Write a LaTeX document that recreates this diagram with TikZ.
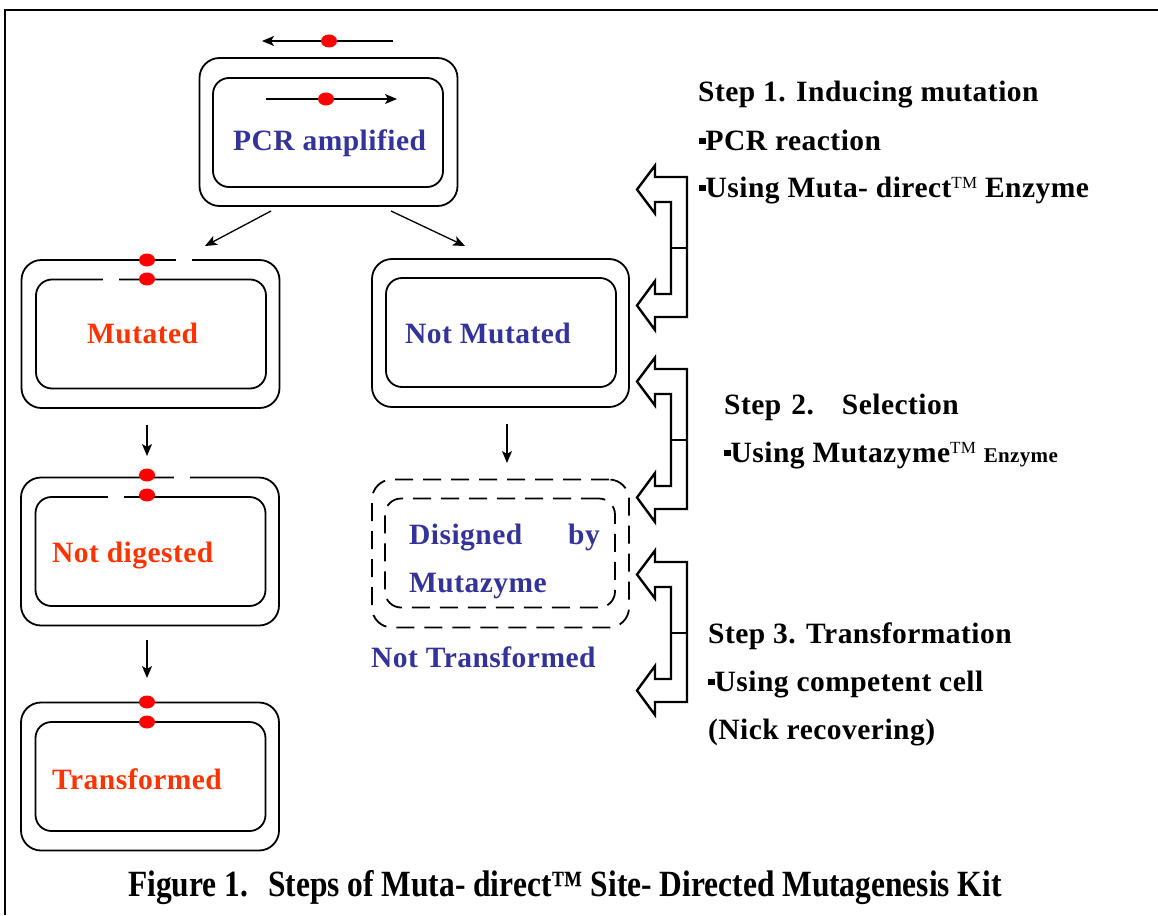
\documentclass[tikz,border=0pt]{standalone}
\usepackage{fontspec}
\setmainfont{Liberation Serif}[LetterSpace=1.6]
\newfontfamily\capfont[FakeStretch=0.85]{Liberation Serif}
\usetikzlibrary{arrows.meta,shapes.geometric,calc}
\definecolor{lblue}{RGB}{51,51,153}
\definecolor{lred}{RGB}{255,51,0}
\definecolor{dotred}{RGB}{255,0,0}
\newcommand{\mybul}{\raisebox{0.2em}{\rule{0.22em}{0.22em}}}
\newcommand{\mytm}{\raisebox{9pt}{\fontsize{17}{17}\selectfont\mdseries TM}}
\begin{document}
\begin{tikzpicture}[x=1pt,y=-1pt,
 obox/.style={draw, line width=1.8pt, rounded corners=20pt, inner sep=0pt, minimum width=258pt, minimum height=148pt},
 ibox/.style={draw, line width=1.8pt, rounded corners=16pt, inner sep=0pt, minimum width=230pt, minimum height=109pt},
 dashbox/.style={dash pattern=on 18pt off 10pt},
 lbl/.style={anchor=base west, inner sep=0pt, font=\fontsize{29.5}{30}\selectfont\bfseries},
 dot/.style={ellipse, fill=dotred, inner sep=0pt, minimum width=16pt, minimum height=13pt},
 arr/.style={line width=1.3pt, -{Stealth[length=12pt,width=10pt,inset=3pt]}},
 gapw/.style={fill=white, inner sep=0pt, minimum width=16pt, minimum height=6pt},
 brk/.style={line width=2.4pt, line join=miter},
 brackpic/.pic={
   \draw[brk] (18,0) -- (50,0) -- (50,140) -- (18,140) -- (18,153) -- (0,128.5) -- (18,104) -- (18,117) -- (34,117) -- (34,25) -- (18,25) -- (18,36.5) -- (0,12.5) -- (18,-11.5) -- cycle;
   \draw[line width=1.2pt] (34,71) -- (50,71);
 }]
\useasboundingbox (0,0) rectangle (1158,915);
% frame
\draw[line width=2pt] (5,915) -- (5,10) -- (1158,10);

% PCR amplified
\node[obox] (pcro) at (328.5,132) {};
\node[ibox] (pcri) at (328,132.5) {};
\node[lbl, text=lblue] (pcrt) at (233,150) {PCR amplified};
\coordinate (ta1) at (393,41); \coordinate (ta2) at (262,41);
\draw[arr] (ta1) -- (ta2);
\node[dot] (td) at (329,41) {};
\coordinate (ia1) at (266,99); \coordinate (ia2) at (397,99);
\draw[arr] (ia1) -- (ia2);
\node[dot] (id) at (326,99) {};

% split arrows
\coordinate (a1s) at (271,211); \coordinate (a1e) at (205,246);
\coordinate (a2s) at (391,211); \coordinate (a2e) at (465,246);
\draw[arr] (a1s) -- (a1e);
\draw[arr] (a2s) -- (a2e);

% Mutated
\node[obox] (muto) at (150.5,334) {};
\node[ibox] (muti) at (151,334) {};
\node[gapw] (mg1) at (184,260) {};
\node[gapw] (mg2) at (111,279) {};
\node[dot] (md1) at (147,260) {};
\node[dot] (md2) at (147,279) {};
\node[lbl, text=lred] (mutt) at (87,343) {Mutated};

% Not Mutated
\node[obox, minimum width=257pt] (nmo) at (500.5,333) {};
\node[ibox] (nmi) at (501,332.5) {};
\node[lbl, text=lblue] (nmt) at (405,343) {Not Mutated};

% down arrows
\coordinate (d1s) at (147,425); \coordinate (d1e) at (147,456);
\coordinate (d2s) at (147,640); \coordinate (d2e) at (147,678);
\coordinate (d3s) at (507,424); \coordinate (d3e) at (507,463);
\draw[arr] (d1s) -- (d1e);
\draw[arr] (d2s) -- (d2e);
\draw[arr] (d3s) -- (d3e);

% Not digested
\node[obox] (ndo) at (150,551.5) {};
\node[ibox] (ndi) at (150.5,551.5) {};
\node[gapw] (ng1) at (182,477) {};
\node[gapw] (ng2) at (116,497) {};
\node[dot] (nd1) at (147,475) {};
\node[dot] (nd2) at (147,495) {};
\node[lbl, text=lred] (ndt) at (52,562) {Not digested};

% Transformed
\node[obox] (tro) at (150,776.5) {};
\node[ibox] (tri) at (150.5,776.5) {};
\node[dot] (trd1) at (147,702) {};
\node[dot] (trd2) at (147,722) {};
\node[lbl, text=lred] (trt) at (52,789) {Transformed};

% Dashed (digested)
\node[obox, dashbox, minimum width=257pt] (dgo) at (500.5,553.5) {};
\node[ibox, dashbox] (dgi) at (500,553) {};
\node[lbl, text=lblue] (dgt1) at (409,544) {Disigned};
\node[lbl, text=lblue, anchor=base east] (dgt2) at (600,544) {by};
\node[lbl, text=lblue] (dgt3) at (409,592) {Mutazyme};
\node[lbl, text=lblue] (ntt) at (371,667) {Not Transformed};

% brackets
\pic (b1) at (637,177) {brackpic};
\pic (b2) at (637,369) {brackpic};
\pic (b3) at (637,562) {brackpic};

% step texts
\node[lbl] (s1) at (698,102) {Step 1. Inducing mutation};
\node[lbl] (s1a) at (699,150) {\mybul PCR reaction};
\node[lbl] (s1b) at (699,197) {\mybul Using Muta- direct\mytm\ Enzyme};
\node[lbl] (s2) at (724,414) {Step\hspace{10pt}2.\hspace{28pt}Selection};
\node[lbl] (s2a) at (724,462) {\mybul Using Mutazyme\mytm\ {\fontsize{21}{21}\selectfont Enzyme}};
\node[lbl] (s3) at (708,643) {Step 3. Transformation};
\node[lbl] (s3a) at (708,691) {\mybul Using competent cell};
\node[lbl] (s3b) at (708,739) {(Nick recovering)};

% caption
\node[anchor=base west, inner sep=0pt, font=\capfont\fontsize{37}{37}\selectfont\bfseries] (cap) at (128,896) {Figure 1.\hspace{20pt}Steps of Muta- direct™ Site- Directed Mutagenesis Kit};
\end{tikzpicture}
\end{document}
